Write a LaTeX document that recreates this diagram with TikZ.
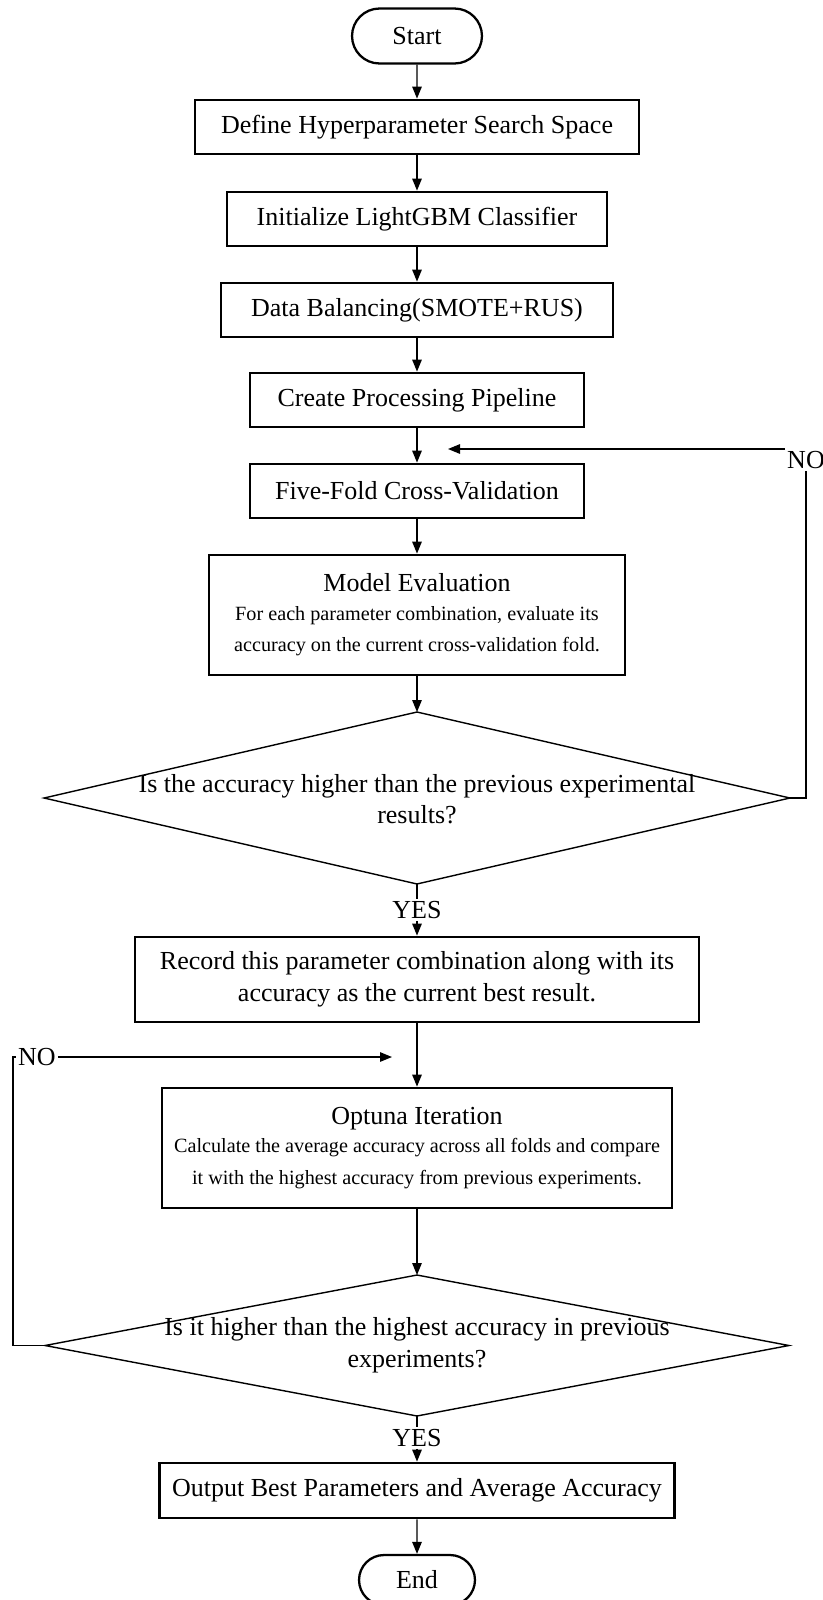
\documentclass[tikz,border=0pt]{standalone}
\usepackage{fontspec}
\setmainfont{Liberation Serif}
\usetikzlibrary{shapes.geometric,shapes.misc,arrows.meta}

\newcommand{\smalltxt}{\fontsize{11.5}{17}\selectfont}

\tikzset{
  box/.style={draw, line width=1.6pt, align=center, inner sep=2pt,
    font=\fontsize{14.8}{18}\selectfont},
  term/.style={draw, rounded rectangle, line width=1.3pt, inner sep=2pt,
    font=\fontsize{14.8}{18}\selectfont},
  decision/.style={draw, diamond, line width=0.8pt, inner sep=0pt, outer sep=0pt},
  qtext/.style={align=center, font=\fontsize{14.8}{18}\selectfont},
  lbl/.style={inner sep=1pt, font=\fontsize{14.8}{18}\selectfont},
  line/.style={line width=0.75pt},
  arrow/.style={line, -{Triangle[length=0.24cm,width=0.19cm]}}
}

\begin{document}
\begin{tikzpicture}[x=0.02cm,y=-0.02cm]

  % Page frame
  \useasboundingbox (0,0) rectangle (822,1600);

  % Main column
  \node[term, minimum width=2.74cm, minimum height=1.1cm] (start) at (417,36) {Start};
  \node[box, minimum width=8.88cm, minimum height=1.08cm] (define) at (417,127) {Define Hyperparameter Search Space};
  \node[box, minimum width=7.6cm, minimum height=1.08cm] (init) at (417,219) {Initialize LightGBM Classifier};
  \node[box, minimum width=7.84cm, minimum height=1.08cm] (balance) at (417,310) {Data Balancing(SMOTE+RUS)};
  \node[box, minimum width=6.68cm, minimum height=1.08cm] (pipeline) at (417,400) {Create Processing Pipeline};
  \node[box, minimum width=6.68cm, minimum height=1.08cm] (fivefold) at (417,491) {Five-Fold Cross-Validation};
  \node[box, minimum width=8.32cm, minimum height=2.4cm] (evaluate) at (417,615)
    {Model Evaluation\\[-2pt] \smalltxt For each parameter combination, evaluate its\\ \smalltxt accuracy on the current cross-validation fold.};

  % First decision
  \node[decision, minimum width=14.92cm, minimum height=3.44cm] (dec1) at (417,798) {};
  \node[qtext] (dec1txt) at (417,799) {Is the accuracy higher than the previous experimental\\results?};
  \node[lbl] (yes1) at (417,910) {YES};

  \node[box, minimum width=11.28cm, minimum height=1.7cm] (record) at (417,979.5)
    {Record this parameter combination along with its\\accuracy as the current best result.};
  \node[box, minimum width=10.2cm, minimum height=2.4cm] (optuna) at (417,1148)
    {Optuna Iteration\\[-2pt] \smalltxt Calculate the average accuracy across all folds and compare\\ \smalltxt it with the highest accuracy from previous experiments.};

  % Second decision
  \node[decision, minimum width=14.88cm, minimum height=2.82cm] (dec2) at (417,1345.5) {};
  \node[qtext] (dec2txt) at (417,1345) {Is it higher than the highest accuracy in previous\\experiments?};
  \node[lbl] (yes2) at (417,1438) {YES};

  \node[box, minimum width=10.3cm, minimum height=1.1cm] (output) at (417,1490.5) {Output Best Parameters and Average Accuracy};
  \node[term, minimum width=2.46cm, minimum height=1.0cm] (end) at (417,1580) {End};

  % Loop labels and free ends
  \node[lbl, anchor=north] (no1) at (806,449) {NO};
  \node[lbl] (no2) at (37,1057) {NO};
  \coordinate (loop1) at (448,450);
  \coordinate (loop2) at (392,1057);
  \coordinate (leftx) at (13,1057);

  % Straight arrows
  \draw[arrow] (start) -- (define);
  \draw[arrow] (define) -- (init);
  \draw[arrow] (init) -- (balance);
  \draw[arrow] (balance) -- (pipeline);
  \draw[arrow] (pipeline) -- (fivefold);
  \draw[arrow] (fivefold) -- (evaluate);
  \draw[arrow] (evaluate) -- (dec1.north);
  \draw[line] (dec1.south) -- (yes1);
  \draw[arrow] (yes1) -- (record);
  \draw[arrow] (record) -- (optuna);
  \draw[arrow] (optuna) -- (dec2.north);
  \draw[line] (dec2.south) -- (yes2);
  \draw[arrow] (yes2) -- (output);
  \draw[arrow] (output) -- (end);

  % NO loops
  \draw[line] (dec1.east) -| (no1.south);
  \draw[arrow] (no1.north west) -- (loop1 |- no1.north west);
  \draw[line] (dec2.west) -| (leftx) -- (no2.west);
  \draw[arrow] (no2.east) -- (loop2);

\end{tikzpicture}
\end{document}
